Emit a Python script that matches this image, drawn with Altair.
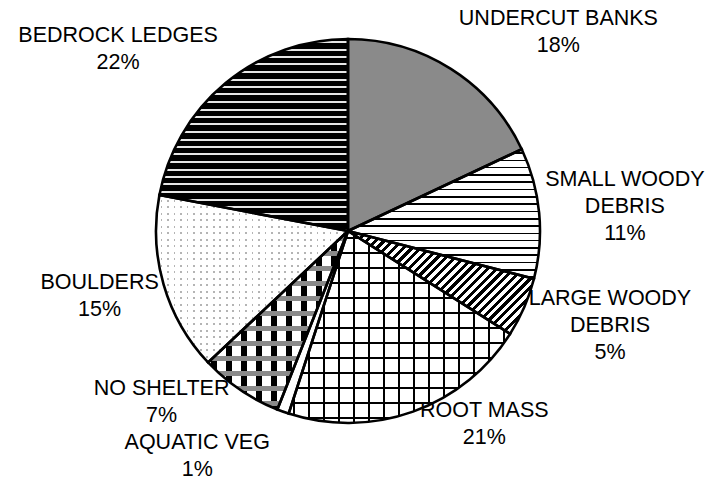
import math
import altair as alt
import pandas as pd

# ---- data ----
categories = ["UNDERCUT BANKS", "SMALL WOODY\nDEBRIS", "LARGE WOODY\nDEBRIS", "ROOT MASS",
              "AQUATIC VEG", "NO SHELTER", "BOULDERS", "BEDROCK LEDGES"]
shares = [18, 11, 5, 21, 1, 7, 15, 22]

# ---- layout / style constants ----
CX, CY, R = 340, 223, 192          # pie centre (view coords) and radius
FONT, FS, LH = "Liberation Sans", 21.5, 27
CHARW, GAPX = 14.5, 6              # label box estimate used for placement

df = pd.DataFrame({
    "idx": list(range(len(categories))),
    "cat": categories,
    "share": shares,
})
df["label"] = [c + "\n" + f"{s}%" for c, s in zip(categories, shares)]
df["maxlen"] = [max(len(l) for l in c.split("\n")) for c in categories]
df["nlines"] = [len(c.split("\n")) + 1 for c in categories]

total = sum(shares)

# geometry of each slice's bounding box (for gradient-based hatch patterns)
def sector_box(i):
    start = sum(shares[:i]); end = start + shares[i]
    t0, t1 = 2 * math.pi * start / total, 2 * math.pi * end / total
    pts = [(0.0, 0.0)]
    angs = [t0, t1] + [k * math.pi / 2 for k in range(5) if t0 < k * math.pi / 2 < t1]
    for t in angs:
        pts.append((R * math.sin(t), -R * math.cos(t)))
    xs, ys = zip(*pts)
    return max(xs) - min(xs), max(ys) - min(ys)

def stripe_stops(length, period, width, on, off, phase=0.0):
    stops = [{"offset": 0, "color": off}]
    pos = phase
    last = 0.0
    while pos < length:
        a = round(max(pos, 0) / length, 5)
        b = round(min(pos + width, length) / length, 5)
        a = max(a, last)
        b = max(b, a)
        stops += [{"offset": a, "color": off}, {"offset": a, "color": on},
                  {"offset": b, "color": on}, {"offset": b, "color": off}]
        last = b
        pos += period
    stops.append({"offset": 1, "color": off})
    return stops

def grad(i, direction, period, width, on, off, phase=0.0):
    w, h = sector_box(i)
    if direction == "h":
        x2, y2, L = 0, 1, h
    elif direction == "v":
        x2, y2, L = 1, 0, w
    else:  # "/" diagonal at 45 degrees on screen
        lam = (w + h) / (w * w + h * h)
        x2, y2, L = lam * w, lam * h, (w + h) / math.sqrt(2)
    return {"gradient": "linear", "x1": 0, "y1": 0, "x2": x2, "y2": y2,
            "stops": stripe_stops(L, period, width, on, off, phase)}

CLEAR = "rgba(255,255,255,0)"

base = alt.Chart(df).transform_joinaggregate(
    total="sum(share)"
).transform_window(
    cum="sum(share)", sort=[alt.SortField("idx")], frame=[None, 0]
).transform_calculate(
    start="datum.cum - datum.share"
)

theta_enc = dict(
    theta=alt.Theta("start:Q", scale=alt.Scale(domain=[0, total], range=[0, 2 * math.pi])),
    theta2=alt.Theta2("cum:Q"),
    x=alt.value(CX),
    y=alt.value(CY),
)

def slice_layer(i, fill):
    return base.transform_filter(f"datum.idx == {i}").mark_arc(
        radius=R, fill=fill
    ).encode(**theta_enc)

layers = [
    slice_layer(0, "#8a8a8a"),
    slice_layer(1, grad(1, "h", 7.3, 1.6, "#000000", "#ffffff", 3)),
    slice_layer(2, grad(2, "d", 6.2, 3.0, "#000000", "#ffffff")),
    slice_layer(3, grad(3, "h", 15, 2.0, "#000000", "#ffffff", 6)),
    slice_layer(3, grad(3, "v", 15, 2.0, "#000000", CLEAR, 4)),
    slice_layer(4, "#ffffff"),
    slice_layer(5, grad(5, "v", 15, 5.5, "#000000", "#ffffff", 3)),
    slice_layer(5, grad(5, "h", 15, 5.0, "#8a8a8a", CLEAR, 5)),
    slice_layer(6, "#b4b4b4"),
    slice_layer(6, grad(6, "h", 6.5, 4.6, "#ffffff", CLEAR)),
    slice_layer(6, grad(6, "v", 6.5, 4.6, "#ffffff", CLEAR)),
    slice_layer(7, grad(7, "h", 7.5, 2.0, "#e6e6e6", "#000000", 2)),
]

outline = base.mark_arc(
    radius=R, fillOpacity=0, stroke="black", strokeWidth=2.6, strokeJoin="miter"
).encode(**theta_enc)

# label placement: box beside the slice's edge point ("best fit" style),
# then a label that collides with the next one on its side is pushed away
labels = base.transform_calculate(
    mid="(datum.start + datum.share / 2) / datum.total * 2 * PI",
).transform_calculate(
    px=f"{CX} + {R} * sin(datum.mid)",
    py=f"{CY} - {R} * cos(datum.mid)",
    side="sin(datum.mid) >= 0 ? 1 : -1",
    bh=f"datum.nlines * {LH}",
    frac="clamp(0.5 + 0.8 * cos(datum.mid), 0.27, 1.2)",
).transform_calculate(
    lx=f"datum.px + datum.side * (datum.maxlen * {CHARW} / 2 + {GAPX})",
    ly0="datum.py - (datum.frac - 0.5) * datum.bh",
).transform_window(
    next_ly="lead(ly0)", next_bh="lead(bh)", next_side="lead(side)",
    sort=[alt.SortField("idx")],
).transform_calculate(
    ly=("datum.next_ly == null || datum.next_side != datum.side ? datum.ly0 : "
        "(datum.side > 0 ? min(datum.ly0, datum.next_ly - (datum.next_bh + datum.bh) / 2) "
        ": max(datum.ly0, datum.next_ly + (datum.next_bh + datum.bh) / 2))"),
).transform_calculate(
    ytop=f"datum.ly - (datum.nlines - 1) * {LH} / 2",
).mark_text(
    font=FONT, fontSize=FS, lineBreak="\n", lineHeight=LH,
    align="center", baseline="middle", color="black"
).encode(
    x=alt.X("lx:Q", scale=None, axis=None),
    y=alt.Y("ytop:Q", scale=None, axis=None),
    text="label:N",
)

chart = alt.layer(*layers, outline, labels).properties(
    width=697, height=475, autosize="none", padding=0, background="white"
).configure_view(stroke=None)

chart.save("out.html", embed_options={"renderer": "svg", "actions": False})
